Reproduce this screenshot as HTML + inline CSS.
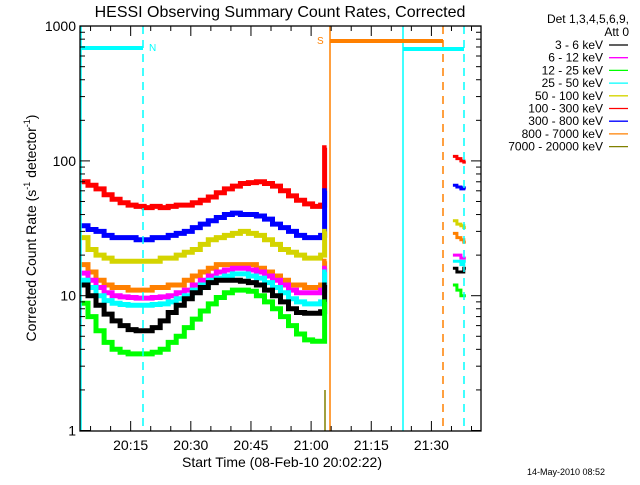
<!DOCTYPE html>
<html><head><meta charset="utf-8"><style>
body{margin:0;background:#fff;width:640px;height:480px;overflow:hidden}
text{font-family:"Liberation Sans",sans-serif;fill:#000}
</style></head><body>
<svg id="chart" width="640" height="480" xmlns="http://www.w3.org/2000/svg">
<text x="280" y="17" font-size="16" text-anchor="middle">HESSI Observing Summary Count Rates, Corrected</text>
<text transform="translate(36,228) rotate(-90)" font-size="14" text-anchor="middle">Corrected Count Rate (s<tspan font-size="9" dy="-6">-1</tspan><tspan dy="6"> detector</tspan><tspan font-size="9" dy="-6">-1</tspan><tspan dy="6">)</tspan></text>
<text x="282" y="467" font-size="14" text-anchor="middle">Start Time (08-Feb-10 20:02:22)</text>
<text x="566" y="475" font-size="9" text-anchor="middle">14-May-2010 08:52</text>
<g id="plot"></g>
<g id="axes"></g>
<g id="legend"></g>
</svg>
<script>
const times=[0,2,4,6,8,10,12,14,16,18,20,22,24,26,28,30,32,34,36,38,40,42,44,46,48,50,52,54,56,58,60,61];
const red=[70,66,62,56,52,49,47,46,45,46,45,46,47,47,49,51,54,58,62,65,68,69,70,68,65,60,55,51,48,46,47,125];
const blue=[33,31,30,28,27,27,27,26,26,27,27,28,29,30,32,34,36,38,40,41,40,40,39,37,34,32,30,28,27,27,28,60];
const yellow=[27,22,20,19,18,18,18,18,18,18,19,19,20,21,22,24,26,27,28,29,30,29,28,26,24,22,21,20,19,19,20,30];
const orange=[17,15,13,12,11.5,11.5,11,11,11,11.5,11.5,12,12,13,14,15,16,17,17,17,17,17,16,15,14,13,12,12,11.5,11.5,12,18];
const magenta=[14.7,13,11.5,10.5,10,9.8,9.7,9.6,9.6,9.7,9.8,10,10.5,11,12,13,14,15,15.5,16,16,15.5,15,14,13,12,11,10.5,10.5,10.5,11,16];
const cyan=[13,11.5,10,9.2,8.8,8.6,8.5,8.5,8.5,8.6,8.7,9,9.5,10,11,12,13,13.5,14,14.5,14.5,14,13.5,12.5,11.5,10.5,9.5,9,8.7,8.7,9,15];
const black=[12,10,8.5,7.3,6.5,6,5.6,5.5,5.5,5.8,6.5,7.5,8.5,9.5,10.5,11.5,12.5,13,13,13,12.8,12.5,12,11,10,9,8,7.5,7.4,7.4,7.6,12];
const green=[8.8,7,5.5,4.5,4,3.8,3.7,3.7,3.7,3.8,4,4.5,5,5.8,6.7,7.7,8.7,9.7,10.5,11,11,10.8,10,9,8,7,6,5.2,4.7,4.6,4.6,9];
const times2=[93,94,95,95.7];
const red2=[108,104,100,98];
const blue2=[66,64,62,63];
const yellow2=[36,34,33,32];
const orange2=[29,27,26,25];
const magenta2=[20,20,19,19];
const cyan2=[18,18,17,18];
const black2=[16,15,15,16];
const green2=[12,11,10,10];
const legendLabels=["3 - 6 keV","6 - 12 keV","12 - 25 keV","25 - 50 keV","50 - 100 keV","100 - 300 keV","300 - 800 keV","800 - 7000 keV","7000 - 20000 keV"];
const yTicks=[1,10,100,1000];
const xTickLabels=["20:15","20:30","20:45","21:00","21:15","21:30"];

const NS="http://www.w3.org/2000/svg";
const X0=80,X1=481,Y0=26,Y1=431;
const tStart=2+22/60;
function xs(t){return X0+(t)*(X1-X0)/100;}
function ys(v){return 430.5-134.8*Math.log10(v);}
function mk(tag,attrs,parent){const e=document.createElementNS(NS,tag);for(const k in attrs)e.setAttribute(k,attrs[k]);parent.appendChild(e);return e;}
const plot=document.getElementById('plot'),axes=document.getElementById('axes'),legend=document.getElementById('legend');

const series=[[black,black2,'#000'],[magenta,magenta2,'#ff00ff'],[green,green2,'#00ff00'],[cyan,cyan2,'#00ffff'],[yellow,yellow2,'#d4d400'],[red,red2,'#ff0000'],[blue,blue2,'#0000ff'],[orange,orange2,'#ff8000']];
const order=[5,6,4,7,1,3,0,2];
function stepPath(ts,vs){let d='';for(let i=0;i<ts.length;i++){const x=xs(ts[i]).toFixed(1),y=ys(vs[i]).toFixed(1);if(i===0)d+='M'+x+' '+y;else d+='V'+y;const xn=i<ts.length-1?xs(ts[i+1]):xs(ts[i])+2;d+='H'+xn.toFixed(1);}return d;}
order.forEach(i=>{const s=series[i];
 const p=mk('path',{d:stepPath(times,s[0]),fill:'none',stroke:s[2],'stroke-width':5},plot);
 
 
 const p2=mk('path',{d:stepPath(times2,s[1]),fill:'none',stroke:s[2],'stroke-width':3},plot);
 
 
});
// vertical markers
function vline(x,col,dash,name){const l=mk('line',{x1:x,x2:x,y1:Y0,y2:Y1,stroke:col,'stroke-width':1.5},plot);if(dash)l.setAttribute('stroke-dasharray','8,6');}
vline(81,'#00ffff',false,'night-start');vline(143,'#00ffff',true,'night-end');
mk('line',{x1:325,x2:325,y1:390,y2:431,stroke:'#808000','stroke-width':1.5},plot);
vline(330,'#ff8000',false,'saa-start');vline(403,'#00ffff',false,'night2-start');vline(443,'#ff8000',true,'saa-end');vline(464,'#00ffff',true,'night2-end');
const b1=mk('line',{x1:80,x2:143,y1:48,y2:48,stroke:'#00ffff','stroke-width':4},plot);
const b2=mk('line',{x1:330,x2:443,y1:41,y2:41,stroke:'#ff8000','stroke-width':4},plot);
const b3=mk('line',{x1:403,x2:464,y1:49,y2:49,stroke:'#00ffff','stroke-width':4},plot);
const tn=mk('text',{x:149,y:51,'font-size':10,fill:'#00ffff'},plot);tn.textContent='N';tn.setAttribute('style','fill:#00ffff');
const ts=mk('text',{x:317,y:44,'font-size':10},plot);ts.textContent='S';ts.setAttribute('style','fill:#ff8000');
// axes box
mk('rect',{x:X0,y:Y0,width:X1-X0,height:Y1-Y0,fill:'none',stroke:'#000','stroke-width':1.3},axes);
yTicks.forEach(v=>{
 const y=ys(v);
 mk('line',{x1:X0,x2:X0+10,y1:y,y2:y,stroke:'#000'},axes);mk('line',{x1:X1-10,x2:X1,y1:y,y2:y,stroke:'#000'},axes);
 const t=mk('text',{x:X0-4,y:y+5,'font-size':14,'text-anchor':'end'},axes);t.textContent=String(v);
 
 
 if(v<1000)for(let m=2;m<10;m++){const yy=ys(v*m);mk('line',{x1:X0,x2:X0+5,y1:yy,y2:yy,stroke:'#000'},axes);mk('line',{x1:X1-5,x2:X1,y1:yy,y2:yy,stroke:'#000'},axes);}
});
for(let k=0;k<20;k++){const t=15-tStart+5*(k-2);if(t<0||t>100)continue;const x=xs(t);const major=(k%3===2);
 const L=major?10:5;mk('line',{x1:x,x2:x,y1:Y1-L,y2:Y1,stroke:'#000'},axes);mk('line',{x1:x,x2:x,y1:Y0,y2:Y0+L,stroke:'#000'},axes);}
xTickLabels.forEach((lab,i)=>{const x=xs(15-tStart+15*i);const t=mk('text',{x:x,y:450,'font-size':14,'text-anchor':'middle'},axes);t.textContent=lab;
 
 });
// legend
const h1=mk('text',{x:629,y:23,'font-size':12,'text-anchor':'end'},legend);h1.textContent='Det 1,3,4,5,6,9,';
const h2=mk('text',{x:629,y:36,'font-size':12,'text-anchor':'end'},legend);h2.textContent='Att 0';
const lcols=['#000','#ff00ff','#00ff00','#00ffff','#d4d400','#ff0000','#0000ff','#ff8000','#808000'];
legendLabels.forEach((lab,i)=>{const y=49+i*12.7;const t=mk('text',{x:603,y:y,'font-size':12,'text-anchor':'end'},legend);t.textContent=lab;
 
 
 mk('line',{x1:609,x2:628,y1:y-4,y2:y-4,stroke:lcols[i],'stroke-width':1.3},legend);});
</script>
</body></html>
